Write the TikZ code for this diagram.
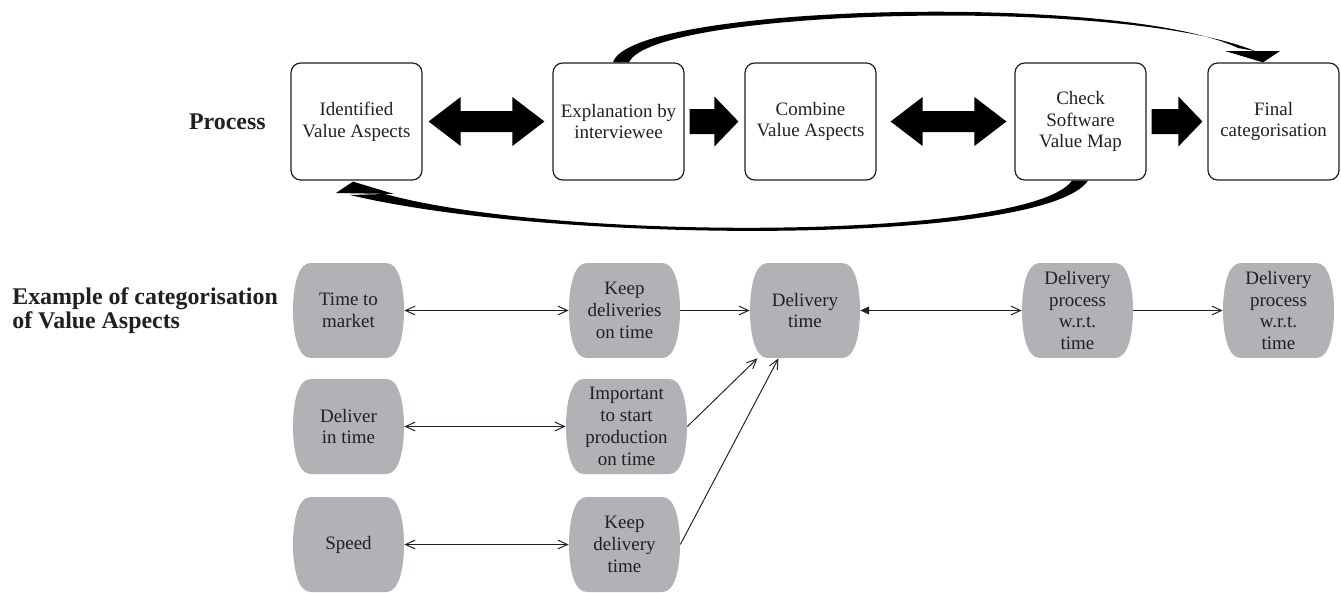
\documentclass[tikz,border=0pt]{standalone}
\usepackage{fontspec}
\setmainfont{Liberation Serif}
\usetikzlibrary{calc,arrows.meta}
\definecolor{txt}{RGB}{35,31,32}
\definecolor{vagray}{RGB}{177,178,181}
\newcommand\vafont{\fontsize{10.8}{12.4}\selectfont}
\newcommand\lblfont{\fontsize{13.6}{12.4}\selectfont\bfseries}
\tikzset{
  vbarb/.tip={Straight Barb[length=5.5pt,width=5pt]},
  vtri/.tip={Triangle[length=5pt,width=4.5pt]},
  pbox/.style={draw=txt, line width=0.7pt, rounded corners=5.5pt,
    minimum width=2.62cm, minimum height=2.34cm, align=center,
    font=\vafont, text=txt, inner sep=1pt},
  vabox/.style={draw=none, fill=white, minimum width=2.22cm, minimum height=1.9cm,
    inner sep=1pt, align=center, font=\vafont, text=txt,
    path picture={\fill[vagray] let \p1=(path picture bounding box.north west),
      \p2=(path picture bounding box.south east),
      \p3=($(path picture bounding box.north west)!0.5!(path picture bounding box.south west)$) in
      (\x1+10pt,\y1) -- (\x2-10pt,\y1) .. controls (\x2-3pt,\y1) and (\x2,\y1-13pt) .. (\x2,\y3)
      .. controls (\x2,\y2+13pt) and (\x2-3pt,\y2) .. (\x2-10pt,\y2) -- (\x1+10pt,\y2)
      .. controls (\x1+3pt,\y2) and (\x1,\y2+13pt) .. (\x1,\y3)
      .. controls (\x1,\y1-13pt) and (\x1+3pt,\y1) .. (\x1+10pt,\y1) -- cycle;}},
  lbl/.style={font=\lblfont, text=txt, inner sep=0pt},
  con/.style={draw=txt, line width=0.55pt},
  fat/.style={fill=black, draw=none}
}
\newcommand\fatdbl[2]{%
  \fill[fat] (#1) -- ($(#1)+(32,-24.5)$) -- ($(#1)+(32,-10.5)$) -- ($(#2)+(-32,-10.5)$)
  -- ($(#2)+(-32,-24.5)$) -- (#2) -- ($(#2)+(-32,24.5)$) -- ($(#2)+(-32,10.5)$)
  -- ($(#1)+(32,10.5)$) -- ($(#1)+(32,24.5)$) -- cycle;}
\newcommand\fatsgl[2]{%
  \fill[fat] (#1) ++(0,-12.5) -- ($(#2)+(-24,-12.5)$) -- ($(#2)+(-24,-25)$) -- (#2)
  -- ($(#2)+(-24,25)$) -- ($(#2)+(-24,12.5)$) -- ($(#1)+(0,12.5)$) -- cycle;}
\begin{document}
\begin{tikzpicture}[x=0.02cm,y=-0.02cm]
\useasboundingbox (0,0) rectangle (1341,592);

% process row
\node[pbox] (b1) at (356.5,121.5) {Identified\\Value Aspects};
\node[pbox] (b2) at (618.5,121.5) {Explanation by\\interviewee};
\node[pbox] (b3) at (810.5,121.5) {Combine\\Value Aspects};
\node[pbox] (b4) at (1080.5,121.5) {Check\\Software\\Value Map};
\node[pbox] (b5) at (1273.5,121.5) {Final\\categorisation};

\node[lbl, anchor=east] (lp) at (266,121.5) {Process};
\node[lbl, anchor=west, align=left] (le) at (12,310.5) {Example of categorisation\\of Value Aspects};

% fat arrows
\coordinate (a1s) at ($(b1.east)+(6,0)$);
\coordinate (a1e) at ($(b2.west)+(-8,0)$);
\fatdbl{a1s}{a1e}
\coordinate (a2s) at ($(b2.east)+(5,0)$);
\coordinate (a2e) at ($(b3.west)+(-6,0)$);
\fatsgl{a2s}{a2e}
\coordinate (a3s) at ($(b3.east)+(14,0)$);
\coordinate (a3e) at ($(b4.west)+(-8,0)$);
\fatdbl{a3s}{a3e}
\coordinate (a4s) at ($(b4.east)+(5,0)$);
\coordinate (a4e) at ($(b5.west)+(-5,0)$);
\fatsgl{a4s}{a4e}

% curved feedback arrows
\fill[fat] ($(b2.north)+(-5.5,0)$) .. controls (630,4) and (1120,-8) .. (1238,48)
  -- (1255,51) .. controls (1120,-4) and (652,9) .. ($(b2.north)+(10.5,0)$) -- cycle;
\fill[fat] (1225,51) -- (1280,51) -- ($(b5.north)+(-10.5,0)$) -- cycle;

\fill[fat] ($(b4.south)+(-8.5,0)$) .. controls (1030,240) and (560,242) .. (385,194)
  -- (350,195) .. controls (560,245) and (1045,245) .. ($(b4.south)+(7.5,0)$) -- cycle;
\fill[fat] (336,193) -- (394,194) -- ($(b1.south)+(-3.5,1)$) -- cycle;

% example row
\node[vabox] (g11) at (348.5,310.5) {Time to\\market};
\node[vabox] (g12) at (624.5,310.5) {Keep\\deliveries\\on time};
\node[vabox, minimum width=2.2cm] (g13) at (805,310.5) {Delivery\\time};
\node[vabox] (g14) at (1077.5,310.5) {Delivery\\process\\w.r.t.\\time};
\node[vabox] (g15) at (1278.5,310.5) {Delivery\\process\\w.r.t.\\time};
\node[vabox] (g21) at (348.5,426.5) {Deliver\\in time};
\node[vabox, minimum width=2.42cm] (g22) at (626.5,426.5) {Important\\to start\\production\\on time};
\node[vabox] (g31) at (348.5,544.5) {Speed};
\node[vabox] (g32) at (624.5,544.5) {Keep\\delivery\\time};

\draw[con, vbarb-vbarb] (g11) -- (g12);
\draw[con, -vbarb] (g12) -- (g13);
\draw[con, vtri-vbarb] (g13) -- (g14);
\draw[con, -vbarb] (g14) -- (g15);
\draw[con, vbarb-vbarb] (g21) -- (g22);
\draw[con, vbarb-vbarb] (g31) -- (g32);
\draw[con, -vbarb] (g22.east) -- ($(g13.south west)!0.07!(g13.south east)$);
\draw[con, -vbarb] (g32.east) -- ($(g13.south west)!0.26!(g13.south east)$);
\end{tikzpicture}
\end{document}
